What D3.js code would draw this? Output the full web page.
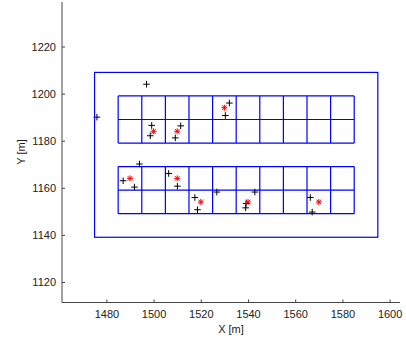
<!DOCTYPE html>
<html><head><meta charset="utf-8">
<script src="https://cdn.jsdelivr.net/npm/d3@7"></script>
<style>body{margin:0;background:#fff}svg{display:block}text{font-family:"Liberation Sans",Arial,sans-serif}</style>
</head><body><svg id="c" width="406" height="340"></svg>
<script>
const xTicks = [1480,1500,1520,1540,1560,1580,1600];
const yTicks = [1120,1140,1160,1180,1200,1220];
const outerRect = [1475,1139,1595,1209]; // x0,y0,x1,y1
const blockXs = [1485,1495,1505,1515,1525,1535,1545,1555,1565,1575,1585];
const topBlockYs = [1179,1189,1199];
const botBlockYs = [1149,1159,1169];
const plusX = [1476,1497,1499.2,1498.6,1511.5,1509.2,1532.1,1530.4,1494,1487.1,1491.9,1506.4,1510.1,1517.5,1518.6,1526.8,1539.2,1539,1542.9,1566.4,1567.2];
const plusY = [1190,1204,1186.5,1182.1,1186.3,1181.2,1196.0,1190.7,1170.1,1163,1160.3,1166.1,1160.7,1155.9,1150.7,1158.2,1153.3,1151.5,1158.2,1155.9,1149.7];
const starX = [1500,1510,1530,1490,1510,1520,1540,1570];
const starY = [1184,1184,1194,1164,1164,1154,1154,1154];

const svg = d3.select("#c");
const x = d3.scaleLinear().domain([1461.2,1604.4]).range([62,400]);
const y = d3.scaleLinear().domain([1111.3,1238.9]).range([302.5,2]);
const blue = "#0000ff";
const g = svg.append("g");

// outer rectangle
g.append("rect").attr("x",x(outerRect[0])).attr("y",y(outerRect[3]))
 .attr("width",x(outerRect[2])-x(outerRect[0])).attr("height",y(outerRect[1])-y(outerRect[3]))
 .attr("fill","none").attr("stroke",blue).attr("stroke-width",1.2);

// blocks
[topBlockYs, botBlockYs].forEach(ys=>{
  const y0=d3.min(ys), y1=d3.max(ys);
  blockXs.forEach(bx=>{
    g.append("line").attr("x1",x(bx)).attr("x2",x(bx)).attr("y1",y(y0)).attr("y2",y(y1))
     .attr("stroke",blue).attr("stroke-width",1.2);
  });
  ys.forEach(by=>{
    g.append("line").attr("x1",x(blockXs[0])).attr("x2",x(blockXs[blockXs.length-1])).attr("y1",y(by)).attr("y2",y(by))
     .attr("stroke",blue).attr("stroke-width",1.2);
  });
});

// plus markers
const plus = plusX.map((v,i)=>({x:v,y:plusY[i]}));
const s=3.3;
g.selectAll(".p").data(plus).join("path").attr("class","p")
 .attr("d",d=>`M${x(d.x)-s},${y(d.y)}H${x(d.x)+s}M${x(d.x)},${y(d.y)-s}V${y(d.y)+s}`)
 .attr("stroke","#000").attr("stroke-width",1);

// star markers
const stars = starX.map((v,i)=>({x:v,y:starY[i]}));
const r=3, r2=2.3;
g.selectAll(".s").data(stars).join("path").attr("class","s")
 .attr("d",d=>{const cx=x(d.x),cy=y(d.y);return `M${cx-r},${cy}H${cx+r}M${cx},${cy-r}V${cy+r}M${cx-r2},${cy-r2}L${cx+r2},${cy+r2}M${cx-r2},${cy+r2}L${cx+r2},${cy-r2}`;})
 .attr("stroke","#ff0000").attr("stroke-width",1);

// axes
const axCol="#444";
const xa = svg.append("g").attr("transform","translate(0,302.5)")
 .call(d3.axisBottom(x).tickValues(xTicks).tickSizeInner(-3).tickSizeOuter(0).tickPadding(8).tickFormat(d3.format("d")));
xa.select(".domain").remove();
xa.append("line").attr("x1",62).attr("x2",400).attr("stroke",axCol);
xa.selectAll(".tick line").attr("stroke",axCol);
xa.selectAll("text").attr("fill","#222").attr("font-size",11).attr("font-family","Liberation Sans, Arial, sans-serif");

const ya = svg.append("g").attr("transform","translate(62,0)")
 .call(d3.axisLeft(y).tickValues(yTicks).tickSizeInner(-3).tickSizeOuter(0).tickPadding(6).tickFormat(d3.format("d")));
ya.select(".domain").remove();
ya.append("line").attr("y1",2).attr("y2",302.5).attr("stroke",axCol);
ya.selectAll(".tick line").attr("stroke",axCol);
ya.selectAll("text").attr("fill","#222").attr("font-size",11).attr("font-family","Liberation Sans, Arial, sans-serif");

svg.append("text").attr("x",231).attr("y",333).attr("text-anchor","middle").attr("font-size",11).attr("fill","#222").text("X [m]");
svg.append("text").attr("transform","translate(25,152) rotate(-90)").attr("text-anchor","middle").attr("font-size",11).attr("fill","#222").text("Y [m]");
</script></body></html>
